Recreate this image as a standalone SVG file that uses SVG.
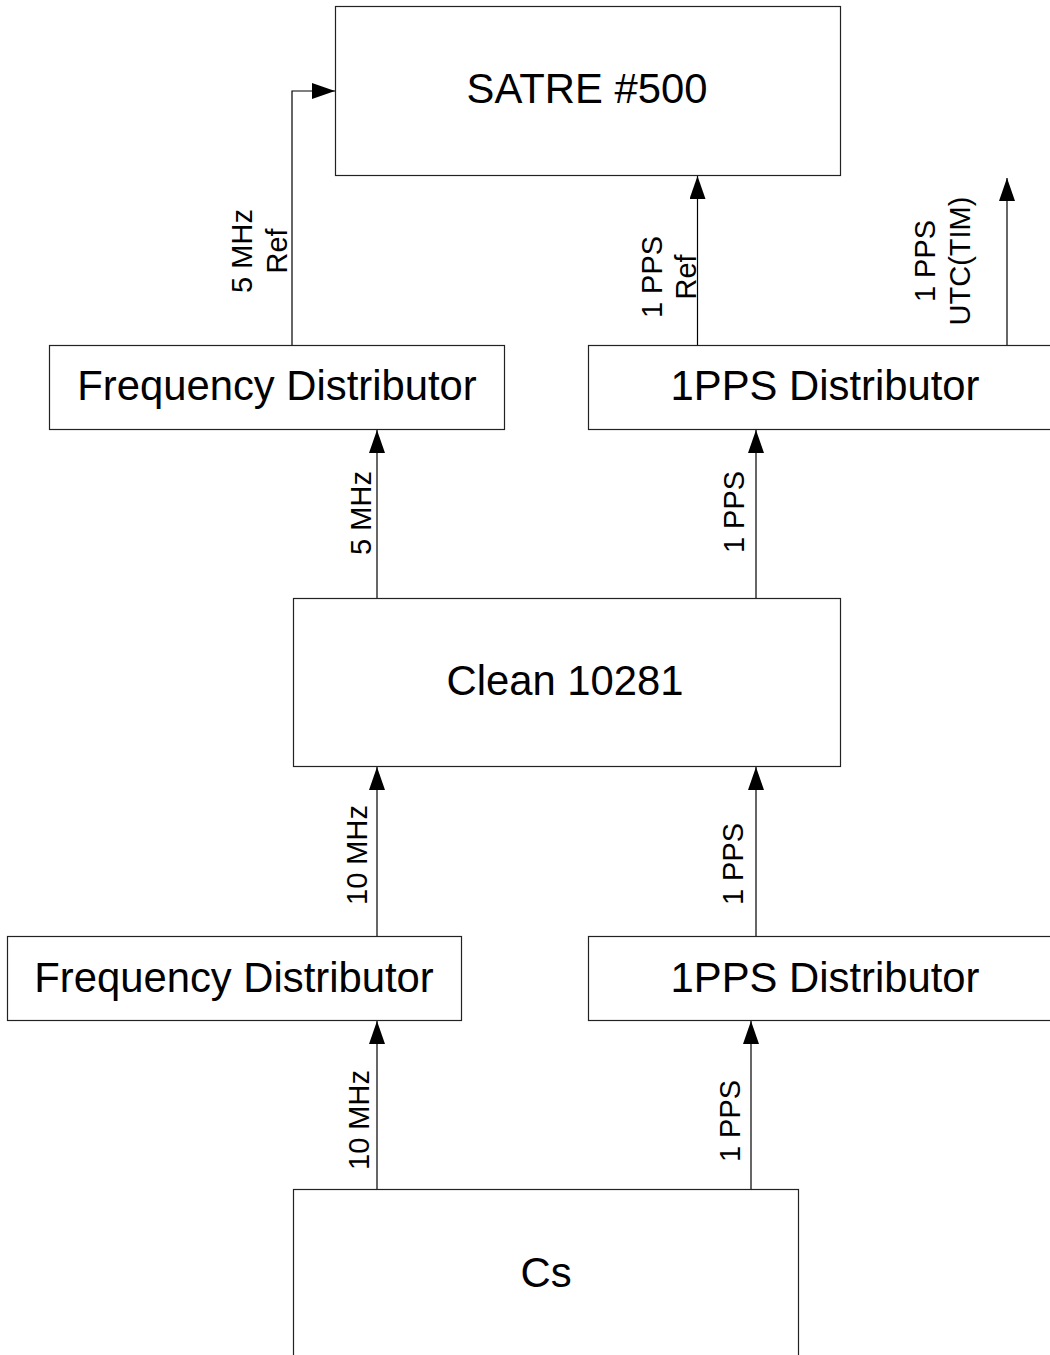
<svg xmlns="http://www.w3.org/2000/svg" width="1050" height="1355" viewBox="0 0 1050 1355">
  <style>
    .box { fill: #fff; stroke: #222; stroke-width: 1.2; }
    .name { font-family: "Liberation Sans", Arial, sans-serif; font-size: 41.8px; fill: #000; text-anchor: middle; }
    .lbl { font-family: "Liberation Sans", Arial, sans-serif; font-size: 29px; fill: #000; text-anchor: middle; }
    .wire { fill: none; stroke: #000; stroke-width: 1.2; marker-end: url(#arrow); }
  </style>
  <defs>
    <marker id="arrow" markerUnits="userSpaceOnUse" markerWidth="24" markerHeight="16" refX="23" refY="8" orient="auto">
      <path d="M0,0 L23,8 L0,16 z" fill="#000"/>
    </marker>
  </defs>
  <rect width="1050" height="1355" fill="#fff"/>

  <!-- signal paths -->
  <g id="connectors">
    <path class="wire" d="M292,345 V91 H335"/>
    <path class="wire" d="M697.5,345 V176"/>
    <path class="wire" d="M1007,347 V178"/>
    <path class="wire" d="M377,598 V430"/>
    <path class="wire" d="M756,598 V430"/>
    <path class="wire" d="M377,936 V767"/>
    <path class="wire" d="M756,936 V767"/>
    <path class="wire" d="M377,1189 V1021"/>
    <path class="wire" d="M751,1189 V1021"/>

    <text class="lbl" transform="translate(252,251) rotate(-90)"><tspan x="0">5 MHz</tspan><tspan x="0" dy="35">Ref</tspan></text>
    <text class="lbl" transform="translate(662,277) rotate(-90)"><tspan x="0">1 PPS</tspan><tspan x="0" dy="34">Ref</tspan></text>
    <text class="lbl" transform="translate(935,261) rotate(-90)"><tspan x="0">1 PPS</tspan><tspan x="0" dy="35">UTC(TIM)</tspan></text>
    <text class="lbl" transform="translate(371,513) rotate(-90)">5 MHz</text>
    <text class="lbl" transform="translate(744,512) rotate(-90)">1 PPS</text>
    <text class="lbl" transform="translate(367,855) rotate(-90)">10 MHz</text>
    <text class="lbl" transform="translate(743,864) rotate(-90)">1 PPS</text>
    <text class="lbl" transform="translate(369,1120) rotate(-90)">10 MHz</text>
    <text class="lbl" transform="translate(740,1121) rotate(-90)">1 PPS</text>
  </g>

  <g id="satre">
    <rect class="box" x="335.5" y="6.5" width="505" height="169"/>
    <text class="name" x="587" y="103">SATRE #500</text>
  </g>
  <g id="freq-dist-top">
    <rect class="box" x="49.5" y="345.5" width="455" height="84"/>
    <text class="name" x="277" y="400">Frequency Distributor</text>
  </g>
  <g id="pps-dist-top">
    <rect class="box" x="588.5" y="345.5" width="500" height="84"/>
    <text class="name" x="825" y="400">1PPS Distributor</text>
  </g>
  <g id="clean">
    <rect class="box" x="293.5" y="598.5" width="547" height="168"/>
    <text class="name" x="565" y="695">Clean 10281</text>
  </g>
  <g id="freq-dist-bottom">
    <rect class="box" x="7.5" y="936.5" width="454" height="84"/>
    <text class="name" x="234" y="992">Frequency Distributor</text>
  </g>
  <g id="pps-dist-bottom">
    <rect class="box" x="588.5" y="936.5" width="500" height="84"/>
    <text class="name" x="825" y="992">1PPS Distributor</text>
  </g>
  <g id="cs">
    <rect class="box" x="293.5" y="1189.5" width="505" height="200"/>
    <text class="name" x="546" y="1287">Cs</text>
  </g>
</svg>
